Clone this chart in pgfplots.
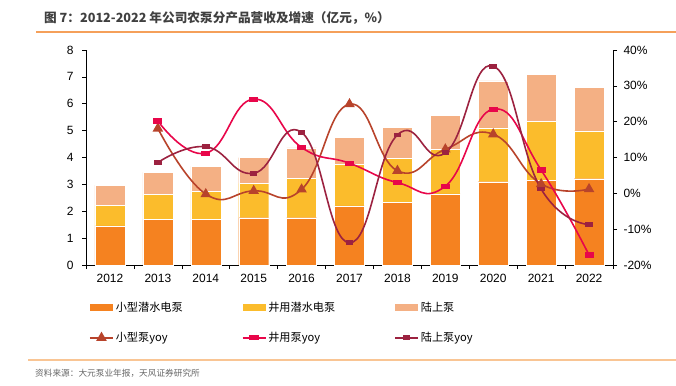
\documentclass[border=0pt]{standalone}
\usepackage{pgfplots}
\pgfplotsset{compat=1.18}
\usepackage{fontspec}
\setmainfont{Liberation Sans}
\newfontfamily\cjk{Noto Sans CJK SC}
\definecolor{cA}{HTML}{F58220}
\definecolor{cB}{HTML}{FBBC2C}
\definecolor{cC}{HTML}{F4B084}
\definecolor{lA}{HTML}{B8432B}
\definecolor{lB}{HTML}{E8064A}
\definecolor{lC}{HTML}{9C2240}
\definecolor{ruleA}{HTML}{F5A05A}
\definecolor{ruleB}{HTML}{F9C594}
\pgfplotsset{
  barleg/.style={legend image code/.code={\fill[##1] (0bp,-3.5bp) rectangle (23bp,3.5bp);}},
  lineleg/.style={legend image code/.code={\draw[mark repeat=2,mark phase=2,##1] plot coordinates {(0bp,0bp) (11.5bp,0bp) (23bp,0bp)};}},
}
\begin{document}
\begin{tikzpicture}[x=1bp,y=1bp]
\useasboundingbox (0,0) rectangle (676,385);
\node[anchor=west, text=black!75, font=\cjk\bfseries\fontsize{12.7}{15}\selectfont, inner sep=0pt] at (44,367) {图 7：2012-2022 年公司农泵分产品营收及增速（亿元，\%）};
\draw[ruleA, line width=1.2bp] (36,353) -- (676,353);
\draw[ruleB, line width=1.2bp] (28,25) -- (676,25);
\node[anchor=west, text=black!60, font=\cjk\fontsize{8.7}{10}\selectfont, inner sep=0pt] at (35,12) {资料来源：大元泵业年报，天风证券研究所};

\begin{axis}[
  at={(86bp,120bp)}, anchor=south west, scale only axis,
  width=527bp, height=215bp,
  xmin=-0.5, xmax=10.5, ymin=0, ymax=8,
  axis y line*=left, axis x line*=bottom,
  ybar stacked, bar width=30bp,
  xtick={0,...,10},
  xticklabels={2012,2013,2014,2015,2016,2017,2018,2019,2020,2021,2022},
  major x tick style={draw=none},
  minor xtick={-0.5,0.5,1.5,2.5,3.5,4.5,5.5,6.5,7.5,8.5,9.5,10.5},
  ytick={0,...,8},
  tick align=outside, major tick length=4bp, minor tick length=4bp,
  tick style={black, line width=0.6bp},
  axis line style={black, line width=0.6bp},
  /pgf/number format/assume math mode=true,
  ticklabel style={font=\fontsize{12}{14}\selectfont},
  yticklabel style={xshift=-5bp},
  xticklabel style={yshift=-2bp},
  clip=false,
]
\addplot[fill=cA, draw=white, line width=0.3bp] coordinates {(0,1.46) (1,1.71) (2,1.71) (3,1.76) (4,1.76) (5,2.20) (6,2.34) (7,2.65) (8,3.10) (9,3.16) (10,3.21)};
\addplot[fill=cB, draw=white, line width=0.3bp] coordinates {(0,0.77) (1,0.93) (2,1.02) (3,1.28) (4,1.46) (5,1.55) (6,1.63) (7,1.65) (8,2.00) (9,2.18) (10,1.78)};
\addplot[fill=cC, draw=white, line width=0.3bp] coordinates {(0,0.74) (1,0.81) (2,0.94) (3,0.96) (4,1.14) (5,1.01) (6,1.15) (7,1.26) (8,1.75) (9,1.76) (10,1.61)};
\end{axis}

\begin{axis}[
  at={(86bp,120bp)}, anchor=south west, scale only axis,
  width=527bp, height=215bp,
  xmin=-0.5, xmax=10.5, ymin=-20, ymax=40,
  axis y line*=right, axis x line=none,
  ytick={-20,-10,...,40},
  yticklabel={\pgfmathprintnumber{\tick}\%},
  tick align=outside, major tick length=4bp,
  tick style={black, line width=0.6bp},
  axis line style={black, line width=0.6bp},
  /pgf/number format/assume math mode=true,
  ticklabel style={font=\fontsize{12}{14}\selectfont},
  yticklabel style={xshift=3bp},
  legend columns=3,
  legend cell align=left,
  legend style={at={(0,-0.155)}, anchor=north west, draw=none, fill=none,
    font=\cjk\fontsize{11.2}{13}\selectfont, row sep=15bp,
    /tikz/every even column/.append style={column sep=57bp}},
  lineleg,
  clip=false,
]
\addlegendimage{fill=cA, draw=none, barleg}
\addlegendentry{小型潜水电泵}
\addlegendimage{fill=cB, draw=none, barleg}
\addlegendentry{井用潜水电泵}
\addlegendimage{fill=cC, draw=none, barleg}
\addlegendentry{陆上泵}
\addplot[lA, line width=1.6bp, smooth, tension=0.8, mark=triangle*, mark size=4.5bp, mark options={solid, fill=lA}] coordinates {(1,18.1) (2,-0.2) (3,0.7) (4,1.1) (5,24.9) (6,6.3) (7,12.3) (8,16.5) (9,2.6) (10,1.2)};
\addlegendentry{小型泵yoy}
\addplot[lB, line width=1.6bp, smooth, tension=0.8, mark=square*, mark size=2.5bp, mark options={solid, fill=lB, xscale=1.5, yscale=0.7}] coordinates {(1,20.2) (2,11.2) (3,26.3) (4,12.8) (5,8.4) (6,3.0) (7,2.0) (8,23.5) (9,6.5) (10,-17.2)};
\addlegendentry{井用泵yoy}
\addplot[lC, line width=1.6bp, smooth, tension=0.8, mark=square*, mark size=2bp, mark options={solid, fill=lC, xscale=1.5, yscale=0.8}] coordinates {(1,8.6) (2,13.0) (3,5.6) (4,17.0) (5,-13.8) (6,16.3) (7,11.3) (8,35.5) (9,1.2) (10,-8.7)};
\addlegendentry{陆上泵yoy}
\end{axis}
\end{tikzpicture}
\end{document}
